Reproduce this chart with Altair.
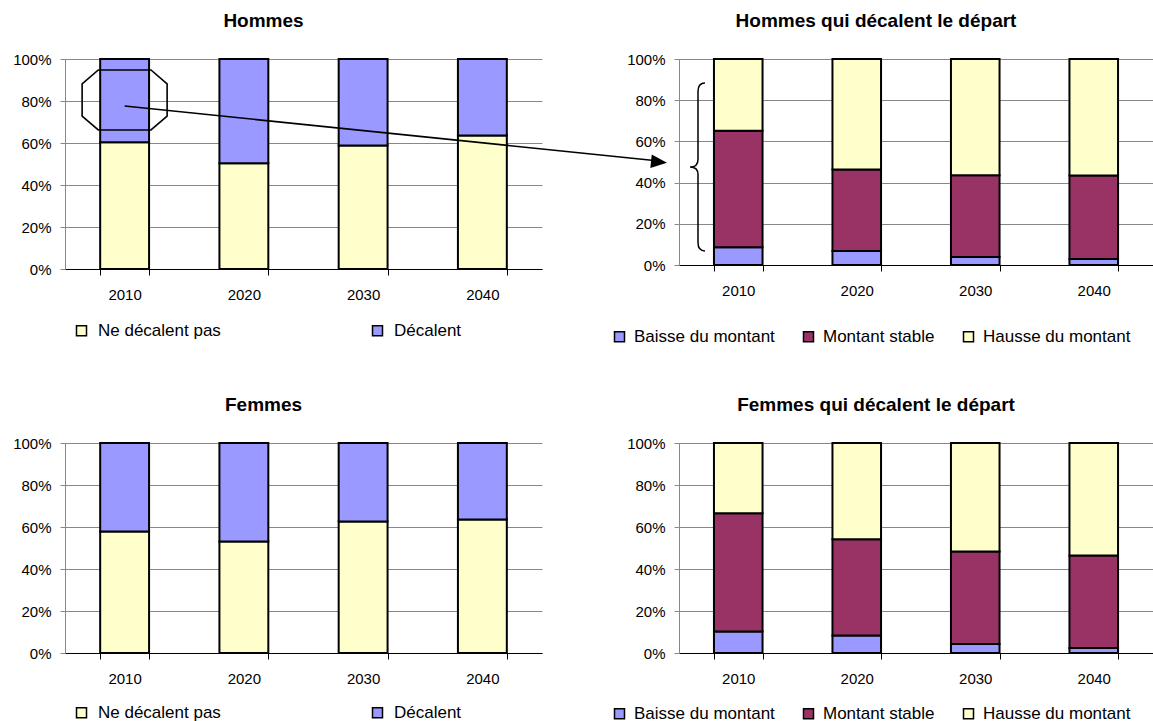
import altair as alt
import pandas as pd

# ---------------- data ----------------
years = ["2010", "2020", "2030", "2040"]

# Panels "Hommes" / "Femmes" (percent)
h_ne_decalent = [60.4, 50.4, 58.8, 63.6]
h_decalent = [39.6, 49.6, 41.2, 36.4]
f_ne_decalent = [57.9, 53.1, 62.6, 63.6]
f_decalent = [42.1, 46.9, 37.4, 36.4]

# Panels "... qui décalent le départ" (percent)
h_baisse = [8.6, 6.8, 3.9, 2.9]
h_stable = [56.6, 39.6, 39.7, 40.5]
h_hausse = [34.8, 53.6, 56.4, 56.6]
f_baisse = [10.2, 8.3, 4.3, 2.4]
f_stable = [56.4, 45.9, 44.0, 44.0]
f_hausse = [33.4, 45.8, 51.7, 53.6]

cats2 = ["Ne décalent pas", "Décalent"]
cols2 = ["#FFFFCC", "#9999FF"]
cats3 = ["Baisse du montant", "Montant stable", "Hausse du montant"]
cols3 = ["#9999FF", "#993366", "#FFFFCC"]

titles = ["Hommes", "Hommes qui décalent le départ",
          "Femmes", "Femmes qui décalent le départ"]

# annotation anchors (data coordinates)
octagon_year, octagon_value = "2010", 80.5
arrow_year, arrow_value = "2010", 77.6
arrow_end_value = 50.0
brace_value = 47.6

FONT = "Liberation Sans"

OCT_PATH = ("M -0.62 -0.706 L 0.62 -0.706 L 1 -0.38 L 1 0.38 L 0.62 0.706 "
            "L -0.62 0.706 L -1 0.38 L -1 -0.38 Z")
BRACE_PATH = ("M 0.083 -1 Q 0 -1 0 -0.9 L 0 -0.09 Q 0 0 -0.095 0 "
              "Q 0 0 0 0.09 L 0 0.9 Q 0 1 0.083 1")
HEAD_PATH = "M 1 0 L -1 -0.85 L -1 0.85 Z"


def make_df(series, cats):
    rows = []
    for i, (cat, vals) in enumerate(zip(cats, series)):
        for y, v in zip(years, vals):
            rows.append({"year": y, "cat": cat, "ord": i, "v": v})
    return pd.DataFrame(rows)


def bars(df, cats, cols, w, h, lx, ly, colpad, loff):
    return alt.Chart(df).mark_bar(stroke="black", strokeWidth=2).encode(
        x=alt.X("year:N", sort=years, title=None,
                scale=alt.Scale(paddingInner=0.59, paddingOuter=0.295),
                axis=alt.Axis(labelAngle=0, tickBand="extent", tickSize=6,
                              tickColor="black", domainColor="black",
                              labelPadding=12, labelFontSize=15, labelFont=FONT,
                              labelColor="black", grid=False)),
        y=alt.Y("v:Q", stack="zero", title=None,
                scale=alt.Scale(domain=[0, 100], nice=False),
                axis=alt.Axis(values=[0, 20, 40, 60, 80, 100],
                              labelExpr="datum.value + '%'",
                              tickSize=5, tickColor="#888888",
                              domainColor="#888888", gridColor="#888888",
                              labelPadding=9, labelFontSize=15, labelFont=FONT,
                              labelColor="black", grid=True)),
        color=alt.Color("cat:N", scale=alt.Scale(domain=cats, range=cols),
                        legend=alt.Legend(orient="none", legendX=lx, legendY=ly,
                                          direction="horizontal",
                                          columns=len(cats), columnPadding=colpad,
                                          title=None, symbolType="square",
                                          symbolSize=100, symbolStrokeColor="black",
                                          symbolStrokeWidth=1.5, labelFontSize=17,
                                          labelFont=FONT, labelColor="black",
                                          labelOffset=loff, labelLimit=400)),
        order=alt.Order("ord:Q", sort="ascending"),
    ).properties(width=w, height=h)


def title(t, off):
    return alt.Title(t, fontSize=19, font=FONT, fontWeight="bold",
                     anchor="middle", dx=-40, offset=off, baseline="alphabetic",
                     color="black")


df_tl = make_df([h_ne_decalent, h_decalent], cats2)
df_bl = make_df([f_ne_decalent, f_decalent], cats2)
df_tr = make_df([h_baisse, h_stable, h_hausse], cats3)
df_br = make_df([f_baisse, f_stable, f_hausse], cats3)

W_L, W_R = 477, 474
GAP_X, GAP_Y = 137, 174

# --- top-left with octagon and arrow line ---
oct_df = pd.DataFrame({"year": [octagon_year], "v": [octagon_value]})
octagon = alt.Chart(oct_df).mark_point(
    shape=OCT_PATH, size=7225, filled=False, stroke="black",
    strokeWidth=1.6, opacity=1).encode(
    x=alt.X("year:N", sort=years, title=None),
    y=alt.Y("v:Q", title=None))
arr_df = pd.DataFrame({"year": [arrow_year], "v": [arrow_value]})
arrow_line = alt.Chart(arr_df).mark_rule(color="black", strokeWidth=1.6).encode(
    x=alt.X("year:N", sort=years, title=None),
    y=alt.Y("v:Q", title=None),
    x2=alt.value(W_L + GAP_X - 20),
    y2=alt.value(102))
tl = alt.layer(
    bars(df_tl, cats2, cols2, W_L, 210, 8, 263, 148, 8), octagon, arrow_line
).properties(title=title(titles[0], 6))

# --- top-right with arrow head and brace ---
head_df = pd.DataFrame({"v": [arrow_end_value]})
head = alt.Chart(head_df).mark_point(
    shape=HEAD_PATH, size=256, filled=True, color="black", strokeWidth=0,
    opacity=1, angle=6).encode(
    x=alt.value(-20), y=alt.Y("v:Q", title=None))
brace_df = pd.DataFrame({"v": [brace_value]})
brace = alt.Chart(brace_df).mark_point(
    shape=BRACE_PATH, size=28224, filled=False, stroke="black",
    strokeWidth=1.5, opacity=1).encode(
    x=alt.value(19), y=alt.Y("v:Q", title=None))
tr = alt.layer(
    bars(df_tr, cats3, cols3, W_R, 206, -68, 269, 25, 6), head, brace
).properties(title=title(titles[1], 6))

bl = bars(df_bl, cats2, cols2, W_L, 210, 8, 261, 148, 8).properties(
    title=title(titles[2], 6))
br = bars(df_br, cats3, cols3, W_R, 210, -68, 262, 25, 6).properties(
    title=title(titles[3], 6))

chart = alt.concat(
    tl, tr, bl, br, columns=2, bounds="flush",
    spacing={"row": GAP_Y, "column": GAP_X},
).resolve_scale(color="independent").resolve_legend(
    color="independent").properties(
    padding={"left": 12, "top": 12, "right": 0, "bottom": 0},
    background="white",
).configure_view(stroke=None)

chart.save("out.html", embed_options={"renderer": "svg", "actions": False})
